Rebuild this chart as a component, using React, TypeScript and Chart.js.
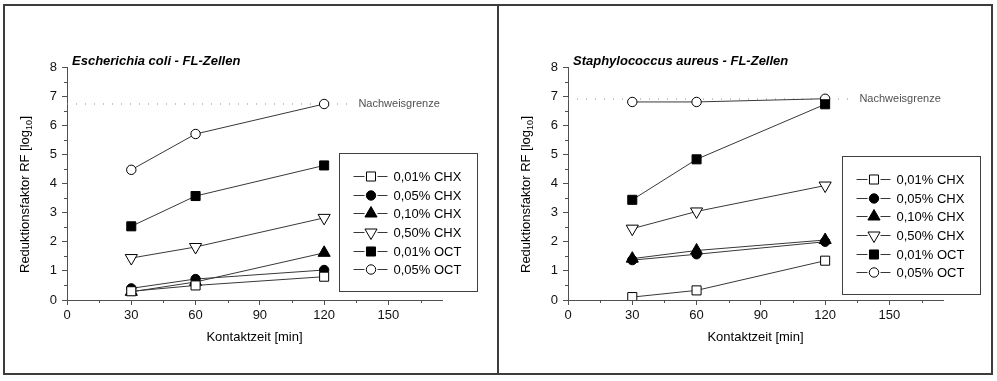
import React, { useEffect, useRef } from "react";
import { Chart, registerables } from "chart.js";

Chart.register(...registerables);

// ---------- data ----------
const contactTimes = [30, 60, 120];
const seriesLabels = ["0,01% CHX", "0,05% CHX", "0,10% CHX", "0,50% CHX", "0,01% OCT", "0,05% OCT"];

const ecoliChx001 = [0.3, 0.5, 0.8];
const ecoliChx005 = [0.4, 0.72, 1.03];
const ecoliChx010 = [0.28, 0.62, 1.62];
const ecoliChx050 = [1.44, 1.82, 2.82];
const ecoliOct001 = [2.53, 3.57, 4.62];
const ecoliOct005 = [4.47, 5.7, 6.73];
const ecoliLimit = 6.73;

const saureusChx001 = [0.1, 0.33, 1.35];
const saureusChx005 = [1.37, 1.57, 2.0];
const saureusChx010 = [1.42, 1.7, 2.06];
const saureusChx050 = [2.45, 3.04, 3.93];
const saureusOct001 = [3.44, 4.83, 6.72];
const saureusOct005 = [6.8, 6.8, 6.91];
const saureusLimit = 6.9;

const limitRange = [0, 131];
const limitLabelAt = 136;
const limitLabel = "Nachweisgrenze";

const xTickLabels = [0, 30, 60, 90, 120, 150];
const yTickLabels = [0, 1, 2, 3, 4, 5, 6, 7, 8];

const xTitle = "Kontaktzeit [min]";
const yTitleMain = "Reduktionsfaktor RF [log";
const yTitleSub = "10";
const yTitleEnd = "]";

// ---------- styles ----------
const FONT = '"Liberation Sans", Arial, Helvetica, sans-serif';
const AXIS = "#505050";
const LINE = "#383838";

type Marker = { shape: "rect" | "circle" | "triangle"; fill: string; rotation: number; radius: number };
const markers: Marker[] = [
  { shape: "rect", fill: "#ffffff", rotation: 0, radius: 6.4 },
  { shape: "circle", fill: "#000000", rotation: 0, radius: 4.7 },
  { shape: "triangle", fill: "#000000", rotation: 0, radius: 7 },
  { shape: "triangle", fill: "#ffffff", rotation: 180, radius: 7 },
  { shape: "rect", fill: "#000000", rotation: 0, radius: 6.4 },
  { shape: "circle", fill: "#ffffff", rotation: 0, radius: 4.7 },
];

function drawMarker(ctx: CanvasRenderingContext2D, m: Marker, x: number, y: number) {
  ctx.beginPath();
  if (m.shape === "rect") {
    const s = m.radius * Math.SQRT1_2;
    ctx.rect(x - s, y - s, 2 * s, 2 * s);
  } else if (m.shape === "circle") {
    ctx.arc(x, y, m.radius, 0, Math.PI * 2);
  } else {
    let a = (m.rotation * Math.PI) / 180;
    ctx.moveTo(x + Math.sin(a) * m.radius, y - Math.cos(a) * m.radius);
    a += (2 * Math.PI) / 3;
    ctx.lineTo(x + Math.sin(a) * m.radius, y - Math.cos(a) * m.radius);
    a += (2 * Math.PI) / 3;
    ctx.lineTo(x + Math.sin(a) * m.radius, y - Math.cos(a) * m.radius);
    ctx.closePath();
  }
  ctx.fillStyle = m.fill;
  ctx.fill();
  ctx.strokeStyle = "#000";
  ctx.lineWidth = 1;
  ctx.stroke();
}

type PanelProps = {
  title: string;
  series: number[][];
  limit: number;
  pageLeft: number;
  width: number;
  plotLeft: number;
  plotRight: number;
  legendLeft: number;
  legendTop: number;
};

const HEIGHT = 381;
const PLOT_TOP = 67;
const PLOT_BOTTOM = 300;

function Panel(p: PanelProps) {
  const ref = useRef<HTMLCanvasElement | null>(null);

  useEffect(() => {
    if (!ref.current) return;
    const datasets: any[] = p.series.map((vals, i) => ({
      label: seriesLabels[i],
      data: contactTimes.map((x, j) => ({ x, y: vals[j] })),
      borderColor: LINE,
      borderWidth: 1,
      pointStyle: markers[i].shape,
      pointRotation: markers[i].rotation,
      pointRadius: markers[i].radius,
      pointBackgroundColor: markers[i].fill,
      pointBorderColor: "#000",
      pointBorderWidth: 1,
      tension: 0,
    }));
    datasets.push({
      label: limitLabel,
      isLimit: true,
      data: limitRange.map((x) => ({ x, y: p.limit })),
      borderColor: "#8c8c8c",
      borderWidth: 1,
      borderDash: [1, 8],
      pointRadius: 0,
      order: 10,
    });

    const decor = {
      id: "decor",
      afterDraw(chart: any) {
        const ctx: CanvasRenderingContext2D = chart.ctx;
        const area = chart.chartArea;
        const xs = chart.scales.x;
        const ys = chart.scales.y;
        ctx.save();
        // minor ticks
        ctx.strokeStyle = AXIS;
        ctx.lineWidth = 1;
        ctx.beginPath();
        xs.ticks.forEach((t: any) => {
          if (!xTickLabels.includes(t.value)) {
            const px = Math.round(xs.getPixelForValue(t.value)) + 0.5;
            ctx.moveTo(px, area.bottom);
            ctx.lineTo(px, area.bottom + 3);
          }
        });
        ys.ticks.forEach((t: any) => {
          if (!yTickLabels.includes(t.value)) {
            const py = Math.round(ys.getPixelForValue(t.value)) + 0.5;
            ctx.moveTo(area.left - 3, py);
            ctx.lineTo(area.left, py);
          }
        });
        ctx.stroke();

        // chart title
        ctx.fillStyle = "#000";
        ctx.font = `italic bold 13px ${FONT}`;
        ctx.textAlign = "left";
        ctx.textBaseline = "middle";
        ctx.fillText(p.title, area.left + 5, 61);

        // x title
        ctx.font = `13px ${FONT}`;
        ctx.textAlign = "center";
        ctx.fillText(xTitle, (area.left + area.right) / 2, 337);

        // y title (rotated, with subscript)
        ctx.save();
        ctx.translate(area.left - 41.5, 273);
        ctx.rotate(-Math.PI / 2);
        ctx.textAlign = "left";
        ctx.font = `13px ${FONT}`;
        ctx.fillText(yTitleMain, 0, 0);
        let w = ctx.measureText(yTitleMain).width;
        ctx.font = `9px ${FONT}`;
        ctx.fillText(yTitleSub, w, 4);
        w += ctx.measureText(yTitleSub).width;
        ctx.font = `13px ${FONT}`;
        ctx.fillText(yTitleEnd, w + 0.5, 0);
        ctx.restore();

        // detection limit label
        ctx.font = `11px ${FONT}`;
        ctx.fillStyle = "#505050";
        ctx.textAlign = "left";
        ctx.textBaseline = "middle";
        ctx.fillText(limitLabel, xs.getPixelForValue(limitLabelAt), ys.getPixelForValue(p.limit));

        // legend
        const bx = p.legendLeft + 0.5;
        const by = p.legendTop + 0.5;
        ctx.fillStyle = "#fff";
        ctx.fillRect(bx, by, 138, 138);
        ctx.strokeStyle = "#404040";
        ctx.lineWidth = 1;
        ctx.strokeRect(bx, by, 138, 138);
        seriesLabels.forEach((lab, i) => {
          const ry = Math.round(p.legendTop + 23 + i * 18.65) + 0.5;
          ctx.strokeStyle = LINE;
          ctx.lineWidth = 1;
          ctx.beginPath();
          ctx.moveTo(bx + 14, ry);
          ctx.lineTo(bx + 25, ry);
          ctx.moveTo(bx + 38, ry);
          ctx.lineTo(bx + 48, ry);
          ctx.stroke();
          drawMarker(ctx, markers[i], bx + 31.5, ry);
          ctx.fillStyle = "#000";
          ctx.font = `13px ${FONT}`;
          ctx.textAlign = "left";
          ctx.textBaseline = "middle";
          ctx.fillText(lab, bx + 54, ry + 0.5);
        });
        ctx.restore();
      },
    };

    const tickCol = (major: number[]) => (c: any) =>
      c.tick && major.includes(c.tick.value) ? AXIS : "rgba(0,0,0,0)";

    const chart = new Chart(ref.current, {
      type: "line",
      data: { datasets },
      options: {
        responsive: false,
        animation: false,
        devicePixelRatio: 1,
        layout: { padding: { left: 0, top: PLOT_TOP, right: p.width - p.plotRight, bottom: 0 } },
        plugins: { legend: { display: false }, tooltip: { enabled: false }, title: { display: false } },
        scales: {
          x: {
            type: "linear",
            min: 0,
            max: 175,
            afterFit: (s: any) => {
              s.height = HEIGHT - PLOT_BOTTOM;
            },
            border: { display: true, color: AXIS, width: 1 },
            grid: { drawOnChartArea: false, drawTicks: true, tickLength: 5, tickColor: tickCol(xTickLabels) },
            ticks: {
              stepSize: 15,
              autoSkip: false,
              includeBounds: false,
              maxRotation: 0,
              padding: 3,
              color: "#111",
              font: { size: 13, family: FONT },
              callback: (v: any) => (xTickLabels.includes(Number(v)) ? String(v) : ""),
            },
          },
          y: {
            type: "linear",
            min: 0,
            max: 8,
            afterFit: (s: any) => {
              s.width = p.plotLeft;
            },
            border: { display: true, color: AXIS, width: 1 },
            grid: { drawOnChartArea: false, drawTicks: true, tickLength: 5, tickColor: tickCol(yTickLabels) },
            ticks: {
              stepSize: 0.5,
              autoSkip: false,
              includeBounds: false,
              padding: 5,
              color: "#111",
              font: { size: 13, family: FONT },
              callback: (v: any) => (yTickLabels.includes(Number(v)) ? String(v) : ""),
            },
          },
        },
      } as any,
      plugins: [decor],
    });
    return () => chart.destroy();
  }, []);

  return (
    <canvas
      ref={ref}
      width={p.width}
      height={HEIGHT}
      style={{ position: "absolute", left: p.pageLeft, top: 0, width: p.width, height: HEIGHT, display: "block" }}
    />
  );
}

export default function App() {
  return (
    <div
      style={{
        position: "absolute",
        left: 0,
        top: 0,
        width: 997,
        height: 381,
        background: "#fff",
        overflow: "hidden",
      }}
    >
      <Panel
        title="Escherichia coli - FL-Zellen"
        series={[ecoliChx001, ecoliChx005, ecoliChx010, ecoliChx050, ecoliOct001, ecoliOct005]}
        limit={ecoliLimit}
        pageLeft={0}
        width={497}
        plotLeft={67}
        plotRight={442}
        legendLeft={339}
        legendTop={153}
      />
      <Panel
        title="Staphylococcus aureus - FL-Zellen"
        series={[saureusChx001, saureusChx005, saureusChx010, saureusChx050, saureusOct001, saureusOct005]}
        limit={saureusLimit}
        pageLeft={497}
        width={500}
        plotLeft={71}
        plotRight={446}
        legendLeft={345}
        legendTop={156}
      />
      <div
        style={{
          position: "absolute",
          left: 3,
          top: 4,
          width: 990,
          height: 371,
          border: "2px solid #3c3c3c",
          boxSizing: "border-box",
          pointerEvents: "none",
        }}
      />
      <div style={{ position: "absolute", left: 497, top: 4, width: 2, height: 371, background: "#3c3c3c" }} />
    </div>
  );
}
